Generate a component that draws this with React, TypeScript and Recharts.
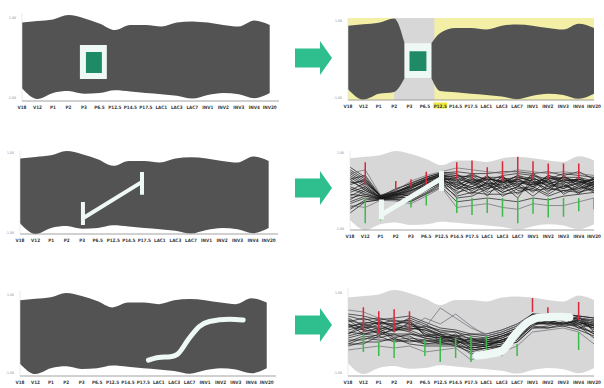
import React from 'react';
import { ComposedChart, Area, Line, XAxis, YAxis, CartesianGrid } from 'recharts';

const CATEGORIES = ['V18', 'V12', 'P1', 'P2', 'P3', 'P6.5', 'P12.5', 'P14.5', 'P17.5', 'LAC1', 'LAC3', 'LAC7', 'INV1', 'INV2', 'INV3', 'INV4', 'INV20'];
const TICK_IDX = CATEGORIES.map((_, i) => i);
const Y_TICKS = [-1, 1];
const Y_TICK_LABELS: Record<string, string> = { '-1': '-1.00', '1': '1.00' };

// min / max envelope of all profiles
const BAND_UPPER = [0.86, 0.9, 0.94, 1.05, 0.97, 0.84, 0.675, 0.8, 0.8, 0.76, 0.86, 0.89, 0.86, 0.8, 0.76, 0.91, 0.8];
const BAND_LOWER = [-0.78, -1.05, -0.9, -0.85, -0.92, -0.9, -0.83, -0.86, -0.9, -0.93, -0.97, -1.04, -0.95, -0.9, -0.93, -1.03, -0.9];

// selection box (panels 1 and 2)
const BOX1_X = [3.74, 5.48];
const BOX1_Y = [-0.55, 0.3];
const INNER1_X = [4.13, 5.16];
const INNER1_Y = [-0.4, 0.125];
const BOX2_X = [3.68, 5.42];
const BOX2_Y = [-0.49, 0.41];
const INNER2_X = [4.0, 5.1];
const INNER2_Y = [-0.31, 0.2];
const FADE_X = [3, 5.62];

// angular brush (panels 3 and 4)
const BRUSH3_X = [4.05, 7.85];
const BRUSH3_Y = [-0.65, 0.27];
const BRUSH3_CAPS = [[-0.82, -0.24], [-0.06, 0.52]];
const BRUSH4_X = [2.06, 6.0];
const BRUSH4_Y = [-0.65, 0.32];
const BRUSH4_CAPS = [[-0.77, -0.24], [-0.01, 0.52]];

// sketched curve (panels 5 and 6)
const CURVE5_X = [8.33, 8.99, 9.76, 10.2, 10.96, 11.62, 12.28, 13.6, 14.47];
const CURVE5_Y = [-0.69, -0.62, -0.6, -0.54, -0.13, 0.18, 0.31, 0.37, 0.35];
const CURVE6_X = [8.39, 9.14, 10.0, 10.86, 11.72, 12.58, 13.87, 14.4];
const CURVE6_Y = [-0.59, -0.55, -0.47, -0.07, 0.25, 0.37, 0.38, 0.37];

// profiles, panel 4
const TRACES_4 = [
  [0.55, 0.3, -0.15, -0.05, 0.15, 0.3, 0.45, 0.4, 0.25, 0.35, 0.2, 0.4, 0.3, 0.25, 0.35, 0.2, 0.3],
  [0.4, 0.15, -0.18, -0.1, 0.05, 0.25, 0.4, 0.2, 0.4, 0.15, 0.35, 0.1, 0.45, 0.2, 0.1, 0.35, 0.15],
  [0.25, 0.05, -0.2, -0.12, 0.0, 0.2, 0.35, 0.05, 0.1, 0.3, 0.0, 0.3, 0.15, 0.4, 0.25, 0.05, 0.25],
  [0.1, -0.05, -0.22, -0.15, -0.05, 0.15, 0.3, 0.3, -0.05, 0.1, 0.25, -0.1, 0.2, 0.05, 0.3, 0.25, 0.05],
  [-0.05, 0.1, -0.19, -0.2, -0.1, 0.1, 0.28, -0.1, 0.2, -0.05, 0.1, 0.2, -0.05, 0.3, -0.1, 0.1, 0.35],
  [-0.2, -0.1, -0.23, -0.08, -0.15, 0.05, 0.25, 0.15, 0.0, 0.2, -0.15, 0.05, 0.1, -0.1, 0.15, -0.05, 0.1],
  [-0.35, -0.2, -0.25, -0.18, -0.2, 0.0, 0.22, -0.2, -0.15, 0.05, 0.15, -0.2, 0.35, 0.1, -0.05, 0.15, -0.05],
  [-0.5, -0.25, -0.21, -0.22, -0.25, -0.05, 0.18, 0.0, 0.3, -0.15, 0.3, 0.15, -0.15, 0.15, 0.05, 0.3, 0.2],
  [0.62, 0.35, -0.16, 0.05, 0.18, 0.35, 0.48, 0.45, 0.15, 0.4, 0.05, 0.35, 0.25, -0.05, 0.4, 0.1, 0.0],
  [0.0, 0.2, -0.14, -0.02, 0.1, 0.22, 0.4, 0.1, 0.35, 0.0, 0.4, 0.0, 0.05, 0.35, 0.2, -0.1, 0.25],
  [-0.6, -0.3, -0.24, -0.25, -0.3, -0.1, 0.1, -0.3, -0.25, -0.2, -0.25, -0.3, -0.2, -0.25, -0.15, -0.1, -0.05],
  [0.5, 0.25, -0.17, -0.06, 0.12, 0.32, 0.42, 0.25, 0.45, 0.25, 0.4, 0.45, 0.4, 0.3, 0.45, 0.4, 0.35],
  [0.3, 0.0, -0.21, -0.14, -0.02, 0.18, 0.33, -0.05, 0.05, 0.15, -0.05, 0.1, 0.0, 0.05, 0.0, 0.05, 0.15],
  [-0.15, 0.05, -0.2, -0.1, 0.02, 0.12, 0.27, 0.35, 0.2, 0.3, 0.25, 0.25, 0.2, 0.2, 0.25, 0.3, 0.2],
  [0.2, 0.25, -0.13, -0.04, 0.08, 0.28, 0.38, 0.15, 0.3, 0.2, 0.15, 0.3, 0.35, 0.1, 0.2, 0.25, 0.1],
  [-0.3, -0.15, -0.22, -0.16, -0.12, 0.08, 0.24, 0.2, 0.1, 0.35, 0.2, 0.25, 0.1, 0.4, 0.3, 0.15, 0.3],
  [0.35, 0.1, -0.19, -0.09, 0.06, 0.26, 0.36, 0.4, 0.35, 0.1, 0.3, 0.35, 0.25, 0.15, 0.35, 0.35, 0.25],
  [-0.1, -0.15, -0.24, -0.2, -0.18, 0.02, 0.2, 0.1, -0.1, 0.25, 0.05, 0.15, 0.3, 0.0, 0.1, 0.2, 0.0],
  [0.45, 0.2, -0.15, -0.03, 0.14, 0.3, 0.44, 0.3, 0.2, 0.35, 0.35, 0.2, 0.15, 0.25, 0.15, 0.0, 0.2],
  [0.05, -0.1, -0.2, -0.13, -0.08, 0.16, 0.32, 0.05, 0.25, 0.05, 0.2, 0.4, 0.2, 0.35, 0.25, 0.3, 0.1],
  [-0.25, 0.0, -0.18, -0.11, 0.0, 0.2, 0.34, 0.25, 0.05, 0.2, -0.05, 0.1, 0.4, 0.2, 0.05, 0.2, 0.3],
  [0.15, 0.3, -0.16, -0.07, 0.1, 0.28, 0.41, 0.35, 0.4, 0.3, 0.25, 0.3, 0.1, 0.3, 0.35, 0.25, 0.15],
  [-0.45, -0.3, -0.25, -0.24, -0.28, -0.08, 0.15, -0.15, -0.05, -0.1, -0.1, -0.05, 0.05, -0.15, 0.0, -0.05, 0.05],
  [0.3, 0.4, -0.14, 0.02, 0.2, 0.36, 0.46, 0.5, 0.45, 0.45, 0.5, 0.5, 0.45, 0.5, 0.4, 0.5, 0.3],
  [0.45, 0.55, -0.12, 0.0, 0.25, 0.4, 0.5, 0.6, 0.55, 0.5, 0.45, 0.55, 0.5, 0.45, 0.5, 0.45, 0.4],
  [-0.4, -0.45, -0.26, -0.28, -0.35, -0.15, 0.08, -0.45, -0.4, -0.35, -0.45, -0.5, -0.35, -0.4, -0.4, -0.3, -0.2],
];
const OUTLIERS_4 = [24, 25];
const RED_LOW_4 = [null, 0.15, null, 0.05, 0.1, 0.1, null, 0.3, 0.3, 0.3, 0.25, 0.3, 0.3, 0.3, 0.3, 0.3, null];
const RED_HIGH_4 = [null, 0.75, null, 0.25, 0.3, 0.5, null, 0.75, 0.8, 0.62, 0.78, 0.9, 0.78, 0.72, 0.72, 0.72, null];
const GREEN_LOW_4 = [null, -0.87, -0.8, null, -0.45, -0.4, null, -0.6, -0.65, -0.6, -0.7, -0.87, -0.62, -0.72, -0.7, -0.55, -0.5];
const GREEN_HIGH_4 = [null, -0.2, -0.3, null, -0.2, -0.1, null, -0.2, -0.2, -0.2, -0.2, -0.2, -0.2, -0.2, -0.2, -0.2, -0.2];

// profiles, panel 6
const TRACES_6 = [
  [0.4, 0.3, 0.35, 0.25, 0.3, 0.15, 0.05, 0.0, -0.1, -0.15, -0.05, 0.1, 0.4, 0.45, 0.4, 0.35, 0.25],
  [0.2, 0.1, 0.15, 0.05, 0.2, -0.05, -0.1, -0.15, -0.25, -0.2, -0.15, 0.0, 0.3, 0.35, 0.45, 0.25, 0.1],
  [0.0, -0.05, -0.1, 0.1, 0.0, -0.15, -0.2, -0.05, -0.35, -0.3, -0.25, -0.1, 0.25, 0.3, 0.3, 0.4, 0.0],
  [-0.2, -0.2, -0.05, -0.1, -0.1, -0.3, -0.25, -0.25, -0.45, -0.4, -0.3, -0.2, 0.2, 0.2, 0.35, 0.15, -0.15],
  [0.3, 0.2, 0.05, 0.2, 0.1, 0.05, -0.05, -0.2, -0.2, -0.25, -0.1, 0.05, 0.35, 0.25, 0.2, 0.3, 0.3],
  [-0.3, -0.15, -0.2, -0.2, -0.25, -0.2, -0.3, -0.3, -0.55, -0.45, -0.35, -0.25, 0.1, 0.15, 0.25, 0.2, -0.05],
  [0.1, 0.25, 0.2, 0.0, 0.25, 0.0, -0.15, -0.1, -0.3, -0.35, -0.2, -0.05, 0.3, 0.4, 0.35, 0.1, 0.2],
  [-0.1, 0.0, 0.1, -0.15, -0.05, -0.1, -0.05, -0.3, -0.15, -0.3, -0.25, -0.15, 0.15, 0.3, 0.2, 0.3, 0.05],
  [0.35, 0.15, 0.25, 0.15, 0.35, 0.2, 0.0, -0.1, -0.05, -0.1, 0.0, 0.15, 0.45, 0.4, 0.45, 0.4, 0.35],
  [-0.25, -0.1, -0.15, -0.05, -0.2, -0.25, -0.2, -0.2, -0.4, -0.35, -0.3, -0.15, 0.2, 0.25, 0.15, 0.2, 0.1],
  [0.15, 0.05, 0.0, 0.15, 0.05, -0.1, -0.15, -0.25, -0.3, -0.25, -0.2, -0.05, 0.35, 0.3, 0.3, 0.25, 0.15],
  [-0.05, 0.2, 0.3, 0.1, 0.15, 0.1, -0.1, -0.15, -0.2, -0.2, -0.1, 0.0, 0.4, 0.35, 0.4, 0.3, 0.2],
  [0.25, 0.35, 0.2, 0.3, 0.2, 0.1, -0.05, -0.1, -0.15, -0.2, -0.1, 0.05, 0.35, 0.35, 0.3, 0.35, 0.2],
  [-0.15, -0.05, 0.05, -0.2, -0.15, -0.2, -0.25, -0.35, -0.4, -0.35, -0.25, -0.15, 0.25, 0.2, 0.25, 0.1, 0.0],
  [0.05, 0.15, -0.05, 0.05, 0.1, 0.05, -0.1, -0.2, -0.35, -0.3, -0.2, -0.1, 0.2, 0.25, 0.3, 0.3, 0.15],
  [0.3, 0.05, 0.2, 0.2, 0.25, -0.05, -0.2, -0.25, -0.25, -0.25, -0.15, 0.05, 0.45, 0.3, 0.4, 0.2, 0.25],
  [-0.35, -0.25, -0.25, -0.15, -0.3, -0.35, -0.35, -0.35, -0.5, -0.4, -0.35, -0.25, 0.1, 0.1, 0.15, 0.05, -0.1],
  [0.15, 0.2, 0.1, 0.05, 0.05, 0.15, 0.0, 0.0, -0.2, -0.15, -0.05, 0.1, 0.3, 0.45, 0.35, 0.35, 0.3],
  [-0.05, 0.1, 0.25, 0.2, 0.3, -0.1, -0.15, -0.15, -0.3, -0.25, -0.25, -0.05, 0.35, 0.3, 0.45, 0.3, 0.15],
  [0.2, -0.05, 0.0, -0.05, -0.05, -0.15, -0.25, -0.2, -0.4, -0.35, -0.2, -0.1, 0.25, 0.2, 0.2, 0.25, 0.1],
  [0.45, 0.4, 0.3, 0.35, 0.4, 0.25, 0.1, 0.05, -0.05, -0.05, 0.05, 0.2, 0.45, 0.45, 0.45, 0.4, 0.35],
  [-0.3, -0.3, -0.1, -0.25, -0.2, -0.3, -0.3, -0.3, -0.45, -0.4, -0.35, -0.2, 0.15, 0.1, 0.2, 0.15, -0.05],
  [0.55, 0.5, 0.35, 0.3, 0.25, 0.1, 0.6, 0.35, 0.1, -0.05, 0.05, 0.2, 0.3, 0.45, 0.4, 0.35, 0.3],
  [0.3, 0.2, 0.1, 0.2, 0.1, 0.35, 0.2, 0.45, 0.15, -0.1, 0.0, 0.15, 0.35, 0.3, 0.35, 0.3, 0.2],
  [-0.45, -0.4, -0.35, -0.4, -0.35, -0.5, -0.45, -0.4, -0.7, -0.55, -0.5, -0.35, 0.0, 0.05, 0.1, 0.0, -0.3],
];
const OUTLIERS_6 = [22, 23, 24];
const RED_LOW_6 = [null, 0.0, -0.05, 0.0, 0.0, null, null, null, null, null, null, null, 0.5, 0.45, null, 0.3, null];
const RED_HIGH_6 = [null, 0.62, 0.52, 0.57, 0.52, null, null, null, null, null, null, null, 0.85, 0.62, null, 0.75, null];
const GREEN_LOW_6 = [null, -0.5, -0.6, -0.65, null, -0.6, -0.75, -0.65, -0.75, -0.45, -0.6, -0.6, null, null, null, -0.45, null];
const GREEN_HIGH_6 = [null, -0.05, -0.25, -0.2, null, -0.2, -0.15, -0.15, -0.1, -0.1, -0.35, -0.3, null, null, null, 0.0, null];

const ARROW_ROWS = [57.5, 187.5, 325];

const DARK = '#535353';
const LIGHT = '#d7d7d7';
const BRUSH = '#eef8f4';
const GREEN_BOX = '#1f8a66';
const FONT = '"DejaVu Sans Condensed", "DejaVu Sans", sans-serif';
const RIGHT_PAD = 8;

const bandRows = (traces?: number[][]) =>
  CATEGORIES.map((_, i) => {
    const row: any = { x: i, band: [BAND_LOWER[i], BAND_UPPER[i]] };
    (traces || []).forEach((t, k) => { row['t' + k] = t[i]; });
    return row;
  });

const rect = (xs: number[], ys: number[]) => [
  { x: xs[0], r: [ys[0], ys[1]] },
  { x: xs[1], r: [ys[0], ys[1]] },
];

const spikes = (lo: (number | null)[], hi: (number | null)[]) =>
  CATEGORIES.flatMap((_, i) =>
    lo[i] == null ? [] : [{ x: i, y: lo[i] }, { x: i, y: hi[i] }, { x: i, y: null }]
  );

const bracket = (xs: number[], ys: number[], caps: number[][]) => [
  { x: xs[0], y: caps[0][0] }, { x: xs[0], y: caps[0][1] }, { x: xs[0], y: null },
  { x: xs[0], y: ys[0] }, { x: xs[1], y: ys[1] }, { x: xs[1], y: null },
  { x: xs[1], y: caps[1][0] }, { x: xs[1], y: caps[1][1] },
];

const curve = (xs: number[], ys: number[]) => xs.map((x, i) => ({ x, y: ys[i] }));

const XTick = (props: any) => {
  const { x, y, payload, highlight } = props;
  const label = CATEGORIES[payload.value];
  return (
    <g>
      {highlight === payload.value && <rect x={x - 7} y={y + 2.5} width={14} height={6} fill="#eee83a" />}
      <text x={x} y={y + 7.5} textAnchor="middle" fontSize={4.6} fontWeight="bold" fontFamily={FONT} fill="#3a3a3a">{label}</text>
    </g>
  );
};

const YTick = (props: any) => {
  const { x, y, payload } = props;
  return (
    <text x={x - 6} y={y + 1.5} textAnchor="end" fontSize={3.5} fontFamily={FONT} fill="#8a8a8a">
      {Y_TICK_LABELS[String(payload.value)]}
    </text>
  );
};

type PanelProps = {
  left: number; top: number; width: number; height: number;
  xMax: number; yLim: number; data: any[]; highlight?: number; bg?: string;
  children?: React.ReactNode;
};

// width is the width up to the plot's right edge; a small pad keeps the last tick label inside the svg
const Panel = ({ left, top, width, height, xMax, yLim, data, highlight, bg, children }: PanelProps) => (
  <div style={{ position: 'absolute', left, top }}>
    <ComposedChart width={width + RIGHT_PAD} height={height} data={data} margin={{ top: 0, right: RIGHT_PAD, bottom: 0, left: 0 }}>
      {bg && <CartesianGrid horizontal={false} vertical={false} fill={bg} stroke="none" />}
      <XAxis dataKey="x" type="number" domain={[0, xMax]} ticks={TICK_IDX} interval={0} allowDataOverflow
        height={12} tickSize={0} tickMargin={0} tickLine={false}
        axisLine={{ stroke: '#8a8a8a', strokeWidth: 0.8 }} tick={<XTick highlight={highlight} />} />
      <YAxis type="number" domain={[-yLim, yLim]} ticks={Y_TICKS} interval={0} allowDataOverflow
        width={18} tickSize={0} tickMargin={0} tickLine={false}
        axisLine={{ stroke: '#dddddd', strokeWidth: 0.6 }} tick={<YTick />} />
      {children}
    </ComposedChart>
  </div>
);

const bandArea = (fill: string) => (
  <Area dataKey="band" type="monotone" fill={fill} fillOpacity={1} stroke="none" isAnimationActive={false} dot={false} activeDot={false} />
);

const polyArea = (data: any[], fill: string, type: any = 'linear') => (
  <Area data={data} dataKey="r" type={type} fill={fill} fillOpacity={1} stroke="none" isAnimationActive={false} dot={false} activeDot={false} />
);

const traceLines = (traces: number[][], outliers: number[]) =>
  traces.map((_, k) => (
    <Line key={'t' + k} dataKey={'t' + k} type="linear" stroke={outliers.includes(k) ? '#6a6470' : '#161616'}
      strokeWidth={0.75} strokeOpacity={0.9} dot={false} activeDot={false} isAnimationActive={false} />
  ));

const segLine = (data: any[], stroke: string, width: number, type: any = 'linear', cap: any = 'butt') => (
  <Line data={data} dataKey="y" type={type} stroke={stroke} strokeWidth={width} strokeLinecap={cap}
    connectNulls={false} dot={false} activeDot={false} isAnimationActive={false} />
);

const Arrow = ({ cy }: { cy: number }) => (
  <svg style={{ position: 'absolute', left: 290, top: cy - 20 }} width={46} height={40}>
    <polygon points="5,10.5 30,10.5 30,3 42,20 30,37 30,29.5 5,29.5" fill="#2fbf8f" />
  </svg>
);

export default function App() {
  const rows = bandRows();
  const rows4 = bandRows(TRACES_4);
  const rows6 = bandRows(TRACES_6);

  const darkLeft = [
    ...CATEGORIES.slice(0, 4).map((_, i) => ({ x: i, r: [BAND_LOWER[i], BAND_UPPER[i]] })),
    { x: BOX2_X[0], r: BOX2_Y },
  ];
  const darkRight = [
    { x: BOX2_X[1], r: BOX2_Y },
    ...CATEGORIES.map((_, i) => ({ x: i, r: [BAND_LOWER[i], BAND_UPPER[i]] })).slice(6),
  ];

  return (
    <div style={{ position: 'absolute', left: 0, top: 0, width: 604, height: 388, background: '#ffffff', overflow: 'hidden' }}>
      <Panel left={4} top={13} width={275} height={100} xMax={16.6} yLim={1.1} data={rows}>
        {bandArea(DARK)}
        {polyArea(rect(BOX1_X, BOX1_Y), BRUSH)}
        {polyArea(rect(INNER1_X, INNER1_Y), GREEN_BOX)}
      </Panel>

      <Panel left={330} top={18} width={264} height={94} xMax={16} yLim={1.06} data={rows} highlight={6} bg="#f3efa6">
        {polyArea(rect(FADE_X, [-1.06, 1.06]), LIGHT)}
        {polyArea(darkLeft, DARK, 'monotone')}
        {polyArea(darkRight, DARK, 'monotone')}
        {polyArea(rect(BOX2_X, BOX2_Y), BRUSH)}
        {polyArea(rect(INNER2_X, INNER2_Y), GREEN_BOX)}
      </Panel>

      <Panel left={2} top={151} width={276} height={95} xMax={16.6} yLim={1.05} data={rows}>
        {bandArea(DARK)}
        {segLine(bracket(BRUSH3_X, BRUSH3_Y, BRUSH3_CAPS), BRUSH, 4)}
      </Panel>

      <Panel left={332} top={151} width={262} height={91} xMax={16} yLim={1.05} data={rows4}>
        {bandArea(LIGHT)}
        {traceLines(TRACES_4, OUTLIERS_4)}
        {segLine(spikes(RED_LOW_4, RED_HIGH_4), '#d8283a', 1.5)}
        {segLine(spikes(GREEN_LOW_4, GREEN_HIGH_4), '#3dbb4a', 1.5)}
        {segLine(bracket(BRUSH4_X, BRUSH4_Y, BRUSH4_CAPS), BRUSH, 5)}
      </Panel>

      <Panel left={2} top={291} width={274} height={97} xMax={16.6} yLim={1.1} data={rows}>
        {bandArea(DARK)}
        {segLine(curve(CURVE5_X, CURVE5_Y), BRUSH, 5, 'monotone', 'round')}
      </Panel>

      <Panel left={330} top={288} width={264} height={100} xMax={16} yLim={1.1} data={rows6}>
        {bandArea(LIGHT)}
        {traceLines(TRACES_6, OUTLIERS_6)}
        {segLine(spikes(RED_LOW_6, RED_HIGH_6), '#d8283a', 1.5)}
        {segLine(spikes(GREEN_LOW_6, GREEN_HIGH_6), '#3dbb4a', 1.5)}
        {segLine(curve(CURVE6_X, CURVE6_Y), BRUSH, 8, 'monotone', 'round')}
      </Panel>

      {ARROW_ROWS.map((cy) => <Arrow key={cy} cy={cy} />)}
    </div>
  );
}
